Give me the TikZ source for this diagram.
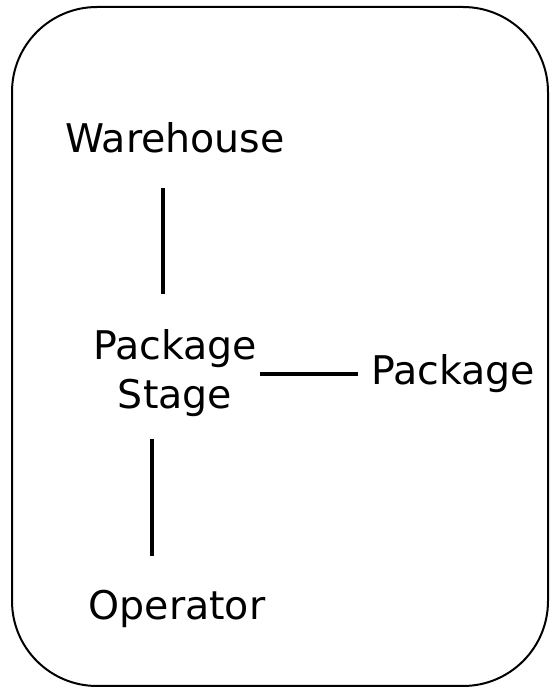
\documentclass[tikz,border=0pt]{standalone}
\usepackage{fontspec}
\setmainfont{DejaVu Sans}
\usetikzlibrary{calc}
\tikzset{
  frame/.style={draw=black, line width=2pt, rounded corners=85pt},
  lbl/.style={font=\fontsize{39.5}{49}\selectfont, align=center, inner sep=0pt},
  link/.style={line width=4.5pt, black},
}

\begin{document}
\begin{tikzpicture}[x=1pt, y=1pt]
\useasboundingbox (0,0) rectangle (552,689);

% ================= FRAME =================
\draw[frame] (12,3) rectangle (548,682);

% ================= NODES =================
\node[lbl, anchor=base] (wh) at (175,536) {Warehouse};
\node[lbl] (stage) at (175,316) {Package\\Stage};
\node[lbl, anchor=base] (pkg) at (453,304) {Package};
\node[lbl, anchor=base] (op) at (177,69) {Operator};

% ================= LINKS =================
\draw[link] ($(wh.base)+(-12,-35)$) -- ($(stage.center)+(-12,79)$);
\draw[link] ($(stage.center)+(-23,-66)$) -- ($(op.base)+(-25,64)$);
\draw[link] ($(stage.center)+(85,-1)$) -- ($(pkg.base)+(-95,11)$);

\end{tikzpicture}
\end{document}
